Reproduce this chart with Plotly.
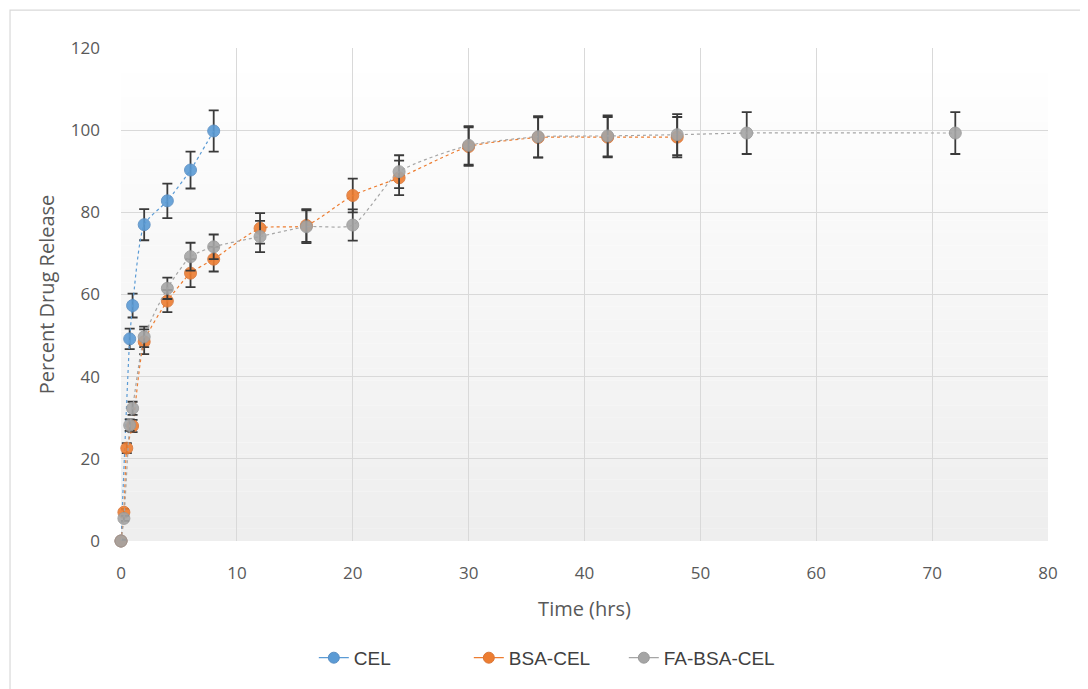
import plotly.graph_objects as go

# ---- data ----
cel_x = [0, 0.75, 1, 2, 4, 6, 8]
cel_y = [0, 49.2, 57.3, 77.0, 82.8, 90.3, 99.8]
cel_err = [0.5, 2.5, 2.9, 3.8, 4.2, 4.5, 5.0]

bsa_x = [0, 0.25, 0.5, 1, 2, 4, 6, 8, 12, 16, 20, 24, 30, 36, 42, 48]
bsa_y = [0, 7.0, 22.6, 28.0, 48.5, 58.4, 65.2, 68.6, 76.1, 76.8, 84.1, 88.4, 96.0, 98.2, 98.3, 98.3]
bsa_err = [0.3, 0.8, 1.2, 1.5, 3.0, 2.7, 3.4, 3.0, 3.7, 4.0, 4.1, 4.2, 4.7, 4.9, 4.9, 4.9]

fa_x = [0, 0.25, 0.75, 1, 2, 4, 6, 8, 12, 16, 20, 24, 30, 36, 42, 48, 54, 72]
fa_y = [0, 5.5, 28.2, 32.3, 49.7, 61.5, 69.2, 71.6, 74.1, 76.5, 76.9, 89.9, 96.3, 98.4, 98.6, 98.9, 99.3, 99.3]
fa_err = [0.3, 0.6, 1.4, 1.6, 2.5, 2.6, 3.4, 3.0, 3.8, 4.0, 3.8, 4.0, 4.7, 5.0, 5.0, 5.0, 5.1, 5.1]

series_names = ["CEL", "BSA-CEL", "FA-BSA-CEL"]
colors = ["#5b9bd5", "#ed7d31", "#a5a5a5"]
edge_colors = ["#5a8fc4", "#d9773a", "#9a9a9a"]

x_ticks = [0, 10, 20, 30, 40, 50, 60, 70, 80]
y_ticks = [0, 20, 40, 60, 80, 100, 120]

fig = go.Figure()
for name, xs, ys, es, c, ec in zip(series_names, [cel_x, bsa_x, fa_x], [cel_y, bsa_y, fa_y],
                                   [cel_err, bsa_err, fa_err], colors, edge_colors):
    fig.add_trace(go.Scatter(
        x=xs, y=ys, name=name, mode="lines+markers", showlegend=False,
        line=dict(color=c, width=1.2, dash="dot", shape="spline", smoothing=0.6),
        marker=dict(symbol="circle", size=12, color=c, opacity=0.9, line=dict(color=ec, width=1)),
        error_y=dict(type="data", array=es, visible=True, color="#3a3a3a", thickness=1.8, width=5),
        cliponaxis=False,
    ))
# legend entries with solid line samples
for name, c, ec in zip(series_names, colors, edge_colors):
    fig.add_trace(go.Scatter(
        x=[None], y=[None], name=name, mode="lines+markers",
        line=dict(color=c, width=1.3),
        marker=dict(symbol="circle", size=11, color=c, line=dict(color=ec, width=1)),
    ))

# gradient plot background
shapes = []
n = 40
for i in range(n):
    t = i / (n - 1)
    v = int(round(255 - 17 * t))
    col = f"rgb({v},{v},{v})"
    shapes.append(dict(type="rect", xref="x domain", yref="y domain",
                       x0=0, x1=1, y0=1 - (i + 1) / n, y1=1 - i / n,
                       fillcolor=col, line=dict(width=0), layer="below"))
# chart frame
shapes.append(dict(type="rect", xref="paper", yref="paper",
                   x0=-0.1197, x1=1.2, y0=-0.5, y1=1.077,
                   line=dict(color="#d9d9d9", width=1.2), fillcolor="rgba(0,0,0,0)", layer="below"))

tick_font = dict(family="Open Sans, sans-serif", size=17, color="#595959")
title_font = dict(family="Open Sans, sans-serif", size=20, color="#595959")

fig.update_layout(
    width=1080, height=681,
    margin=dict(l=113, r=40, t=40, b=148),
    paper_bgcolor="white", plot_bgcolor="rgba(0,0,0,0)",
    shapes=shapes,
    showlegend=True,
    legend=dict(orientation="h", x=0.208, xanchor="left", y=-0.237, yanchor="middle",
                font=dict(family="Liberation Sans, Arial, sans-serif", size=19, color="#404040"),
                entrywidth=110, entrywidthmode="pixels", bgcolor="rgba(0,0,0,0)"),
    xaxis=dict(range=[0, 80], tickvals=x_ticks, showgrid=True, gridcolor="#d9d9d9", gridwidth=1,
               zeroline=False, showline=False, ticks="", tickfont=tick_font, ticklabelstandoff=20,
               title=dict(text="Time (hrs)", font=title_font, standoff=18)),
    yaxis=dict(range=[0, 120], tickvals=y_ticks, showgrid=True, gridcolor="#d9d9d9", gridwidth=1,
               zeroline=False, showline=False, ticks="", tickfont=tick_font, ticklabelstandoff=20,
               title=dict(text="Percent Drug Release", font=title_font, standoff=10)),
)

fig.write_html("out.html")
